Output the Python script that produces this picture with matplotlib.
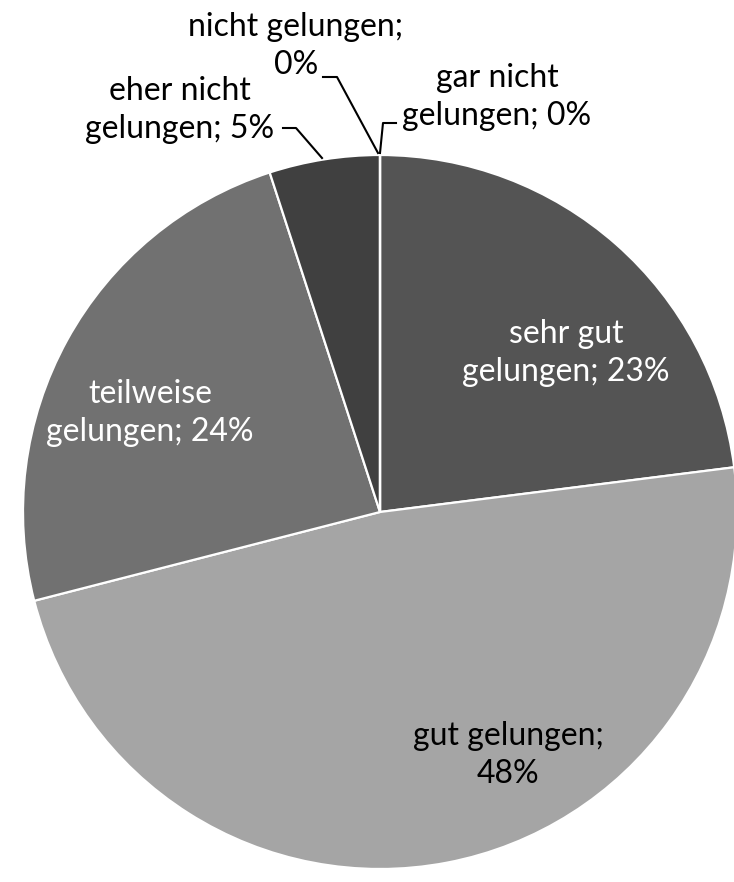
import matplotlib.pyplot as plt

categories = ["sehr gut gelungen", "gut gelungen", "teilweise gelungen",
              "eher nicht gelungen", "nicht gelungen", "gar nicht gelungen"]
values = [23, 48, 24, 5, 0, 0]
colors = ["#545454", "#a5a5a5", "#717171", "#404040", "#595959", "#8c8c8c"]

W, H = 734, 882
fig = plt.figure(figsize=(W / 100, H / 100), dpi=100)
ax = fig.add_axes([0, 0, 1, 1])

# pie in pixel coords (y flipped)
cx, cy, r = 380, H - 512, 357
ax.pie(values, colors=colors, startangle=90, counterclock=False,
       center=(cx, cy), radius=r,
       wedgeprops={"edgecolor": "white", "linewidth": 1.6})

plt.rcParams['font.family'] = ['Lato', 'DejaVu Sans']
fs = 23
ls = 1.3

def py(y):
    return H - y

# labels inside
ax.text(566, py(353), "sehr gut\ngelungen; %d%%" % values[0], color="white",
        fontsize=fs, ha="center", va="center", linespacing=ls)
ax.text(508, py(755), "gut gelungen;\n%d%%" % values[1], color="black",
        fontsize=fs, ha="center", va="center", linespacing=ls)
ax.text(150, py(413), "teilweise\ngelungen; %d%%" % values[2], color="white",
        fontsize=fs, ha="center", va="center", linespacing=ls)

# labels outside with leader lines
ax.text(180, py(110), "eher nicht\ngelungen; %d%%" % values[3], color="black",
        fontsize=fs, ha="center", va="center", linespacing=ls)
ax.plot([283, 296, 322], [py(128), py(128), py(158)], color="black", lw=1.5)

ax.text(296, py(46), "nicht gelungen;\n%d%%" % values[4], color="black",
        fontsize=fs, ha="center", va="center", linespacing=ls)
ax.plot([323, 337, 378], [py(77), py(77), py(153)], color="black", lw=1.5)

ax.text(497, py(97), "gar nicht\ngelungen; %d%%" % values[5], color="black",
        fontsize=fs, ha="center", va="center", linespacing=ls)
ax.plot([396, 383, 380], [py(123), py(123), py(153)], color="black", lw=1.5)

ax.set_xlim(0, W)
ax.set_ylim(0, H)
ax.set_aspect("equal")
ax.axis("off")

plt.savefig("out.png", dpi=100)
